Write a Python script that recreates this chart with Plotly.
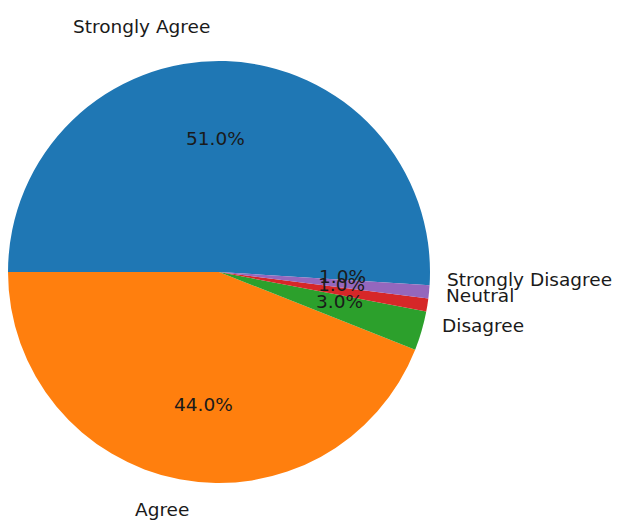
import math
import plotly.graph_objects as go

labels = ["Strongly Agree", "Agree", "Disagree", "Neutral", "Strongly Disagree"]
values = [51, 44, 3, 1, 1]
colors = ["#1f77b4", "#ff7f0e", "#2ca02c", "#d62728", "#9467bd"]

OFF = 8                    # page body margin
W, H = 621 - 2 * OFF, 530 - 2 * OFF
cx, cy = 219, 272          # pie centre in screenshot pixels
r_pie = 211                # drawn circle radius
rx, ry = 205.5, 223        # reference geometry for text placement
FSIZE = 18.5
FONT = dict(family="DejaVu Sans", size=FSIZE, color="#1a1a1a")

def px_to_paper(x, y):
    return (x - OFF) / W, 1 - (y - OFF) / H

x0, y1 = px_to_paper(cx - r_pie, cy - r_pie)
x1, y0 = px_to_paper(cx + r_pie, cy + r_pie)

fig = go.Figure(go.Pie(
    labels=labels, values=values, sort=False,
    direction="counterclockwise", rotation=-90,
    marker=dict(colors=colors, line=dict(width=0)),
    textinfo="none", showlegend=False, hoverinfo="label+percent",
    domain=dict(x=[max(x0, 0), min(x1, 1)], y=[max(y0, 0), min(y1, 1)]),
))

total = sum(values)
annotations = []
cum = 0.0
ymax_px = OFF + H - 0.68 * FSIZE
for lab, v in zip(labels, values):
    mid = 2 * math.pi * (cum + v / 2) / total
    cum += v
    c, s = math.cos(mid), math.sin(mid)
    ly_px = min(cy - 1.1 * ry * s, ymax_px)
    lx, ly = px_to_paper(cx + 1.1 * rx * c, ly_px)
    annotations.append(dict(
        x=lx, y=ly, xref="paper", yref="paper", text=lab, showarrow=False,
        xanchor="left" if c > 0 else "right", yanchor="middle", font=FONT))
    px_, py_ = px_to_paper(cx + 0.6 * rx * c, cy - 0.6 * ry * s)
    annotations.append(dict(
        x=px_, y=py_, xref="paper", yref="paper",
        text=f"{100 * v / total:.1f}%", showarrow=False,
        xanchor="center", yanchor="middle", font=FONT))

fig.update_layout(
    width=W, height=H, margin=dict(l=0, r=0, t=0, b=0),
    paper_bgcolor="white", plot_bgcolor="white",
    annotations=annotations,
)

fig.write_html("out.html")
